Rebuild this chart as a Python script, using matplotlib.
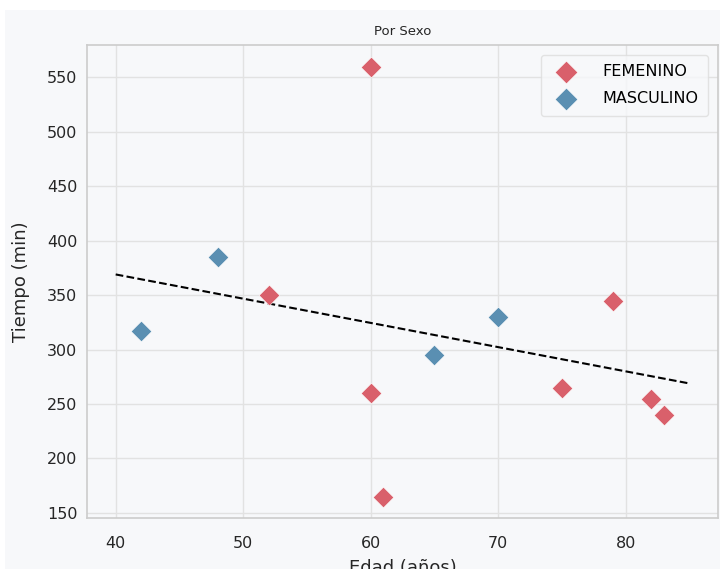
import numpy as np
import matplotlib
matplotlib.use("Agg")
import matplotlib.pyplot as plt
from matplotlib.patches import Rectangle

# datos
edad_fem = [60, 52, 60, 61, 75, 79, 82, 83]
tiempo_fem = [560, 350, 260, 165, 265, 345, 255, 240]
edad_masc = [42, 48, 65, 70]
tiempo_masc = [317, 385, 295, 330]
grupos = ["FEMENINO", "MASCULINO"]
colores = ["#d9606b", "#5a8fb2"]

fondo = "#f7f8fa"
fig = plt.figure(figsize=(7.2, 5.69), dpi=100, facecolor="white")
# fondo gris claro (el original esta recortado con un borde blanco)
fig.add_artist(Rectangle((5 / 720, 0), 1, 1 - 10 / 569, transform=fig.transFigure,
                         facecolor=fondo, edgecolor="none", zorder=-10))
ax = fig.add_axes([87 / 720, 1 - 518 / 569, 631 / 720, 473 / 569])
ax.set_facecolor(fondo)

ax.scatter(edad_fem, tiempo_fem, marker="D", s=110, color=colores[0],
           edgecolor="white", linewidth=0.4, label=grupos[0], zorder=3)
ax.scatter(edad_masc, tiempo_masc, marker="D", s=110, color=colores[1],
           edgecolor="white", linewidth=0.4, label=grupos[1], zorder=3)

# recta de tendencia
x_all = np.array(edad_fem + edad_masc)
y_all = np.array(tiempo_fem + tiempo_masc)
m, b = np.polyfit(x_all, y_all, 1)
xs = np.array([40, 85])
ax.plot(xs, m * xs + b, "--", color="black", linewidth=1.5, zorder=2)

ax.set_xticks([40, 50, 60, 70, 80])
ax.set_yticks(range(150, 551, 50))
ax.grid(True, color="#e2e2e2", linewidth=1)
ax.set_axisbelow(True)
for s in ax.spines.values():
    s.set_color("#cccccc")
    s.set_linewidth(1.2)
ax.tick_params(length=0, labelsize=11.5, colors="#262626", pad=7)
ax.tick_params(axis="x", pad=13)

ax.set_title("Por Sexo", fontsize=9.5, color="#262626", pad=7)
ax.set_xlabel("Edad (años)", fontsize=13, color="#262626", labelpad=6)
ax.set_ylabel("Tiempo (min)", fontsize=13, color="#262626", labelpad=12)

leg = ax.legend(loc="upper right", fontsize=11.5, frameon=True, borderpad=0.6,
                handletextpad=1.3, labelspacing=0.75, markerscale=1.1,
                borderaxespad=0.6)
leg.get_frame().set_edgecolor("#dddddd")
leg.get_frame().set_facecolor(fondo)

fig.savefig("out.png", dpi=100, facecolor=fig.get_facecolor())
